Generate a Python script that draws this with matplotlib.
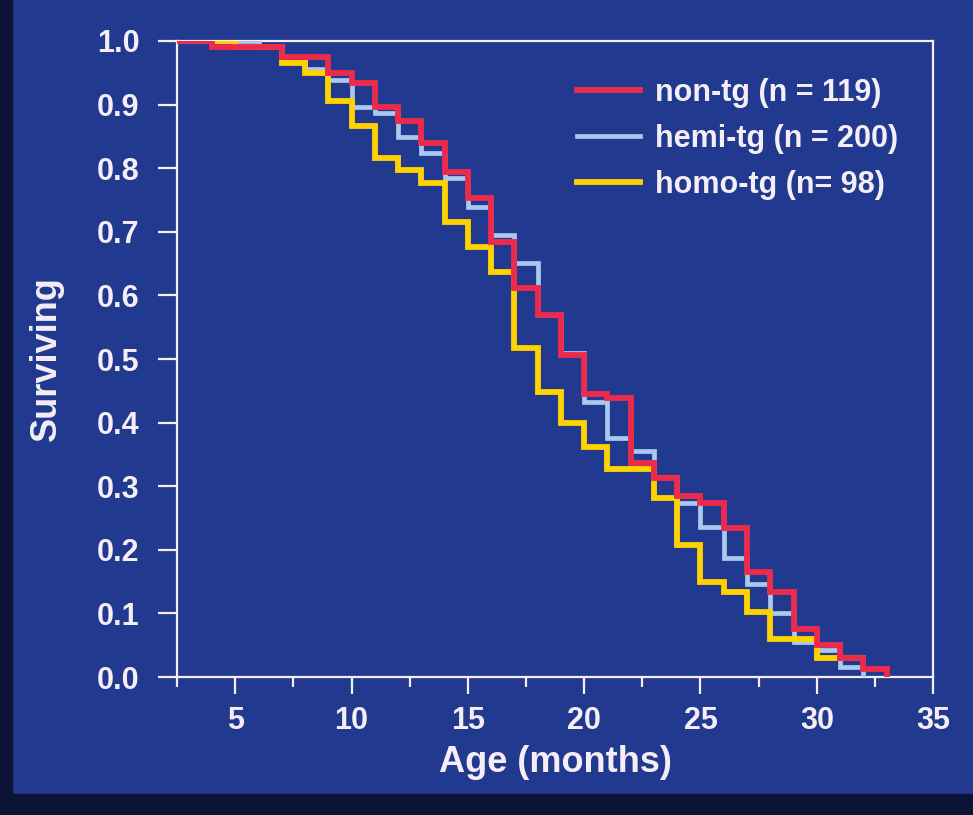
import matplotlib
matplotlib.use("Agg")
import matplotlib.pyplot as plt
from matplotlib.patches import Rectangle
from matplotlib.ticker import MultipleLocator

# survival curves, value holds from each month onward (steps-post)
non_tg_months = [2.5, 4, 7, 9, 10, 11, 12, 13, 14, 15, 16, 17, 18, 19, 20, 21, 22,
                 23, 24, 25, 26, 27, 28, 29, 30, 31, 32, 33]
non_tg_surv = [1.0, 0.99, 0.975, 0.95, 0.934, 0.897, 0.874, 0.84, 0.794, 0.753, 0.684,
               0.612, 0.569, 0.506, 0.445, 0.438, 0.336, 0.313, 0.285, 0.273, 0.234,
               0.165, 0.134, 0.076, 0.05, 0.03, 0.013, 0.0]

hemi_months = [2.5, 6, 7, 8, 9, 10, 11, 12, 13, 14, 15, 16, 17, 18, 19, 20, 21, 22,
               23, 24, 25, 26, 27, 28, 29, 30, 31, 32]
hemi_surv = [1.0, 0.99, 0.967, 0.956, 0.939, 0.896, 0.887, 0.849, 0.824, 0.785, 0.739,
             0.695, 0.651, 0.569, 0.509, 0.432, 0.376, 0.355, 0.315, 0.273, 0.236,
             0.187, 0.147, 0.1, 0.055, 0.042, 0.016, 0.0]

homo_months = [2.5, 5, 7, 8, 9, 10, 11, 12, 13, 14, 15, 16, 17, 18, 19, 20, 21, 23,
               24, 25, 26, 27, 28, 30, 32]
homo_surv = [1.0, 0.99, 0.965, 0.95, 0.906, 0.867, 0.816, 0.797, 0.777, 0.716, 0.676,
             0.637, 0.518, 0.448, 0.40, 0.362, 0.327, 0.281, 0.207, 0.15, 0.134, 0.102,
             0.06, 0.03, 0.03]

labels = ["non-tg (n = 119)", "hemi-tg (n = 200)", "homo-tg (n= 98)"]

bg = "#213a8f"
fg = "#f6eef6"
plt.rcParams["font.family"] = ["Liberation Sans", "DejaVu Sans"]
plt.rcParams["font.weight"] = "bold"

fig = plt.figure(figsize=(9.73, 8.15), dpi=100, facecolor=bg)
ax = fig.add_axes([0.182, 0.1693, 0.777, 0.7804])
ax.set_facecolor(bg)

# dark scan edges
fig.patches.append(Rectangle((0, 0), 0.012, 1, transform=fig.transFigure,
                             color="#0c1436", zorder=0))
fig.patches.append(Rectangle((0, 0), 1, 0.026, transform=fig.transFigure,
                             color="#0c1436", zorder=0))

l_hemi, = ax.plot(hemi_months, hemi_surv, drawstyle="steps-post", color="#a9c9ef",
                  lw=3.4, zorder=3, solid_joinstyle="miter")
l_homo, = ax.plot(homo_months, homo_surv, drawstyle="steps-post", color="#ffd200",
                  lw=4.2, zorder=4, solid_joinstyle="miter")
l_non, = ax.plot(non_tg_months, non_tg_surv, drawstyle="steps-post", color="#ec2a4c",
                 lw=4.2, zorder=5, solid_joinstyle="miter")

ax.set_xlim(2.5, 35)
ax.set_ylim(0, 1.0)
ax.xaxis.set_major_locator(MultipleLocator(5))
ax.xaxis.set_minor_locator(MultipleLocator(2.5))
ax.yaxis.set_major_locator(MultipleLocator(0.1))
ax.set_yticklabels([f"{v:.1f}" for v in ax.get_yticks()])

for s in ax.spines.values():
    s.set_color(fg)
    s.set_linewidth(1.6)

ax.tick_params(axis="y", which="major", direction="out", length=14, width=1.6,
               colors=fg, labelsize=22, pad=13)
ax.tick_params(axis="x", which="major", direction="out", length=12, width=1.6,
               colors=fg, labelsize=22, pad=9)
ax.tick_params(axis="x", which="minor", direction="out", length=7, width=1.6, colors=fg)
for t in ax.get_xticklabels() + ax.get_yticklabels():
    t.set_fontweight("bold")

ax.set_xlabel("Age (months)", fontsize=26, fontweight="bold", color=fg, labelpad=6)
ax.set_ylabel("Surviving", fontsize=26, fontweight="bold", color=fg, labelpad=24)

leg = ax.legend([l_non, l_hemi, l_homo], labels, loc="upper right",
                bbox_to_anchor=(0.99, 0.985), frameon=False,
                handlelength=2.05, handletextpad=0.5, labelspacing=0.52,
                prop={"weight": "bold", "size": 22})
for t in leg.get_texts():
    t.set_color(fg)

fig.savefig("out.png", dpi=100, facecolor=bg)
